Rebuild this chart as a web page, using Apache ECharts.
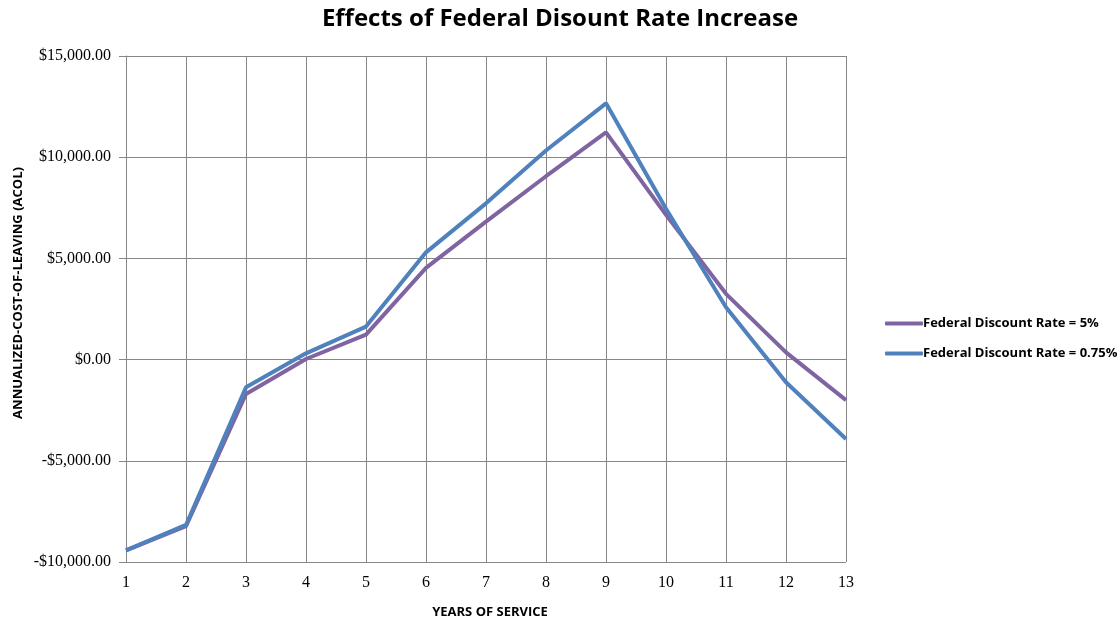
<!DOCTYPE html>
<html><head><meta charset="utf-8">
<script src="https://cdn.jsdelivr.net/npm/echarts@6/dist/echarts.min.js"></script>
<style>html,body{margin:0;padding:0;background:#fff}#c{width:1120px;height:624px}</style>
</head><body><div id="c"></div>
<script>
const years = ['1','2','3','4','5','6','7','8','9','10','11','12','13'];
const rate5 = [-9430, -8230, -1700, 30, 1230, 4530, 6820, 9060, 11230, 7150, 3250, 360, -2000];
const rate075 = [-9430, -8170, -1370, 310, 1630, 5300, 7720, 10330, 12660, 7450, 2590, -1120, -3920];
const seriesNames = ['Federal Discount Rate = 5%', 'Federal Discount Rate = 0.75%'];
const titleText = 'Effects of Federal Disount Rate Increase';
const yName = 'ANNUALIZED-COST-OF-LEAVING (ACOL)';
const xName = 'YEARS OF SERVICE';

function money(v){
  const s = Math.abs(v).toLocaleString('en-US',{minimumFractionDigits:2,maximumFractionDigits:2});
  return (v<0?'-$':'$')+s;
}
const chart = echarts.init(document.getElementById('c'), null, {renderer:'canvas'});
chart.setOption({
  animation:false,
  backgroundColor:'#fff',
  title:{text:titleText,left:'center',top:2,
    textStyle:{fontFamily:'Open Sans',fontWeight:'bold',fontSize:24,color:'#000'}},
  legend:{orient:'vertical',left:880,top:312,itemGap:17,itemWidth:38,itemHeight:4,
    icon:'roundRect',
    textStyle:{fontFamily:'Open Sans',fontWeight:'bold',fontSize:13,color:'#000',padding:[0,0,0,-5]},
    data:seriesNames},
  grid:{left:126,right:274,top:56,bottom:62,containLabel:false},
  graphic:[{type:'text',x:18,y:293,rotation:Math.PI/2,
    style:{text:yName,fontFamily:'Open Sans',fontWeight:'bold',fontSize:13,fill:'#000',
      align:'center',verticalAlign:'middle'}}],
  xAxis:{type:'category',data:years,boundaryGap:false,
    name:xName,nameLocation:'middle',nameGap:44,
    nameTextStyle:{fontFamily:'Open Sans',fontWeight:'bold',fontSize:13,color:'#000',padding:[0,0,0,8]},
    axisLine:{lineStyle:{color:'#868686',width:1}},
    axisTick:{show:true,alignWithLabel:true,length:6,lineStyle:{color:'#868686'}},
    axisLabel:{fontFamily:'Liberation Serif',fontSize:16,color:'#000',margin:13},
    splitLine:{show:true,lineStyle:{color:'#868686',width:1}}},
  yAxis:{type:'value',min:-10000,max:15000,interval:5000,
    axisLine:{show:true,lineStyle:{color:'#868686',width:1}},
    axisTick:{show:true,length:7,lineStyle:{color:'#868686'}},
    axisLabel:{fontFamily:'Liberation Serif',fontSize:16,color:'#000',margin:15,formatter:money},
    splitLine:{show:true,lineStyle:{color:'#868686',width:1}}},
  series:[
    {name:seriesNames[0],type:'line',data:rate5,showSymbol:false,symbol:'none',
      lineStyle:{color:'#8064A2',width:4},itemStyle:{color:'#8064A2'}},
    {name:seriesNames[1],type:'line',data:rate075,showSymbol:false,symbol:'none',
      lineStyle:{color:'#4F81BD',width:4},itemStyle:{color:'#4F81BD'}}
  ]
});
</script></body></html>
